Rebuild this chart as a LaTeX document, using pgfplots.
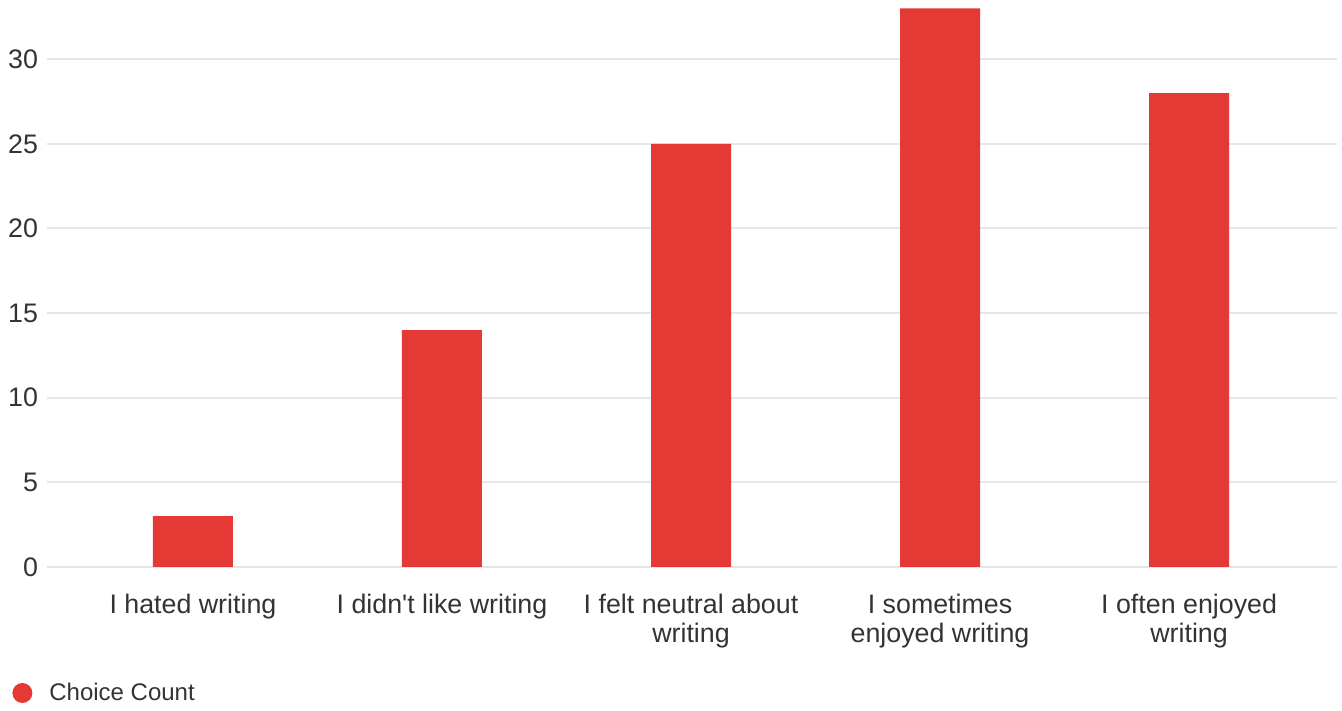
\documentclass[border=0pt]{standalone}
\usepackage{fontspec}
\setmainfont{Liberation Sans}
\usepackage{pgfplots}
\pgfplotsset{compat=1.18}
\definecolor{barred}{HTML}{E53935}
\definecolor{gridc}{HTML}{E6E6E6}
\definecolor{txt}{HTML}{333333}
\begin{document}
\begin{tikzpicture}
\path[use as bounding box] (0,0) rectangle (671pt,355.5pt);
\begin{axis}[
  at={(23.5pt,72pt)}, anchor=south west,
  scale only axis,
  width=645pt, height=283.5pt,
  xmin=-0.586, xmax=4.594,
  ymin=0, ymax=33.5,
  axis line style={draw=none},
  ytick={0,5,10,15,20,25,30},
  ymajorgrids,
  major grid style={gridc, line width=1pt},
  xtick={0,1,2,3,4},
  xticklabels={I hated writing, I didn\textquotesingle t like writing, I felt neutral about\\writing, I sometimes\\enjoyed writing, I often enjoyed\\writing},
  xticklabel style={align=center, font=\fontsize{13.4}{14.5}\selectfont, text=txt, anchor=north, yshift=-10pt},
  yticklabel style={font=\fontsize{13.4}{14}\selectfont, text=txt, anchor=east, xshift=-1pt},
  /pgf/number format/assume math mode=true,
  tick style={draw=none},
  clip=false,
  legend style={at={(0,0)}, anchor=west, xshift=-17.5pt, yshift=-63pt, draw=none, fill=none, font=\fontsize{12}{12}\selectfont, text=txt, inner sep=0pt},
  legend image code/.code={\fill[barred] (5pt,0pt) circle (5pt); \path (16.5pt,0pt);},
]
\addplot[ybar, bar width=40pt, fill=barred, draw=none, bar shift=0pt] coordinates {(0,3) (1,14) (2,25) (3,33) (4,28)};
\addlegendentry{Choice Count}
\end{axis}
\end{tikzpicture}
\end{document}
